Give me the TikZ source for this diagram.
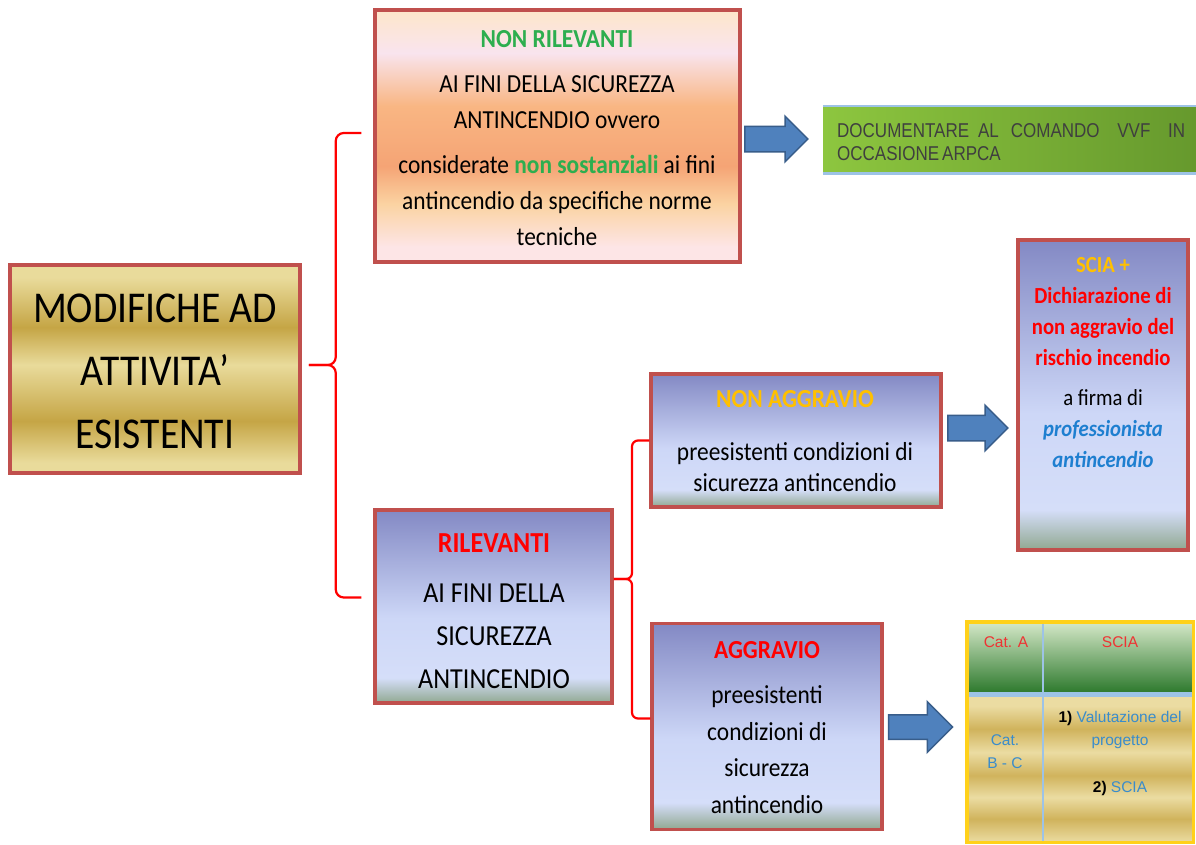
\documentclass[tikz,border=0pt]{standalone}
\usepackage{fontspec}
\setmainfont{Carlito}
\newfontfamily\cf[FakeStretch=0.9]{Carlito}
\newfontfamily\afc[FakeStretch=0.85]{Liberation Sans}
\newfontfamily\af{Liberation Sans}
\usetikzlibrary{shapes.arrows,calc}

\definecolor{bordred}{HTML}{C0504D}
\definecolor{goldL}{HTML}{E9DB9B}
\definecolor{goldD}{HTML}{C5A545}
\definecolor{orA}{HTML}{FDE6CC}
\definecolor{orB}{HTML}{F9E4EE}
\definecolor{orC}{HTML}{F9B683}
\definecolor{orD}{HTML}{F5A475}
\definecolor{orE}{HTML}{FBD3A2}
\definecolor{orF}{HTML}{FDE5E6}
\definecolor{blA}{HTML}{8389C4}
\definecolor{blB}{HTML}{CDD7F7}
\definecolor{blC}{HTML}{D5DEF9}
\definecolor{blD}{HTML}{90A890}
\definecolor{tgL}{HTML}{EBDCA2}
\definecolor{tgD}{HTML}{D0B35C}
\definecolor{grTop}{HTML}{D5E8C8}
\definecolor{grMid}{HTML}{A0C488}
\definecolor{grBot}{HTML}{2E7A2E}
\definecolor{gbL}{HTML}{8DC63F}
\definecolor{gbR}{HTML}{66992D}
\definecolor{lblue}{HTML}{9DC3E6}
\definecolor{arrfill}{HTML}{4F81BD}
\definecolor{arrdraw}{HTML}{385D8A}
\definecolor{tgreen}{HTML}{2DAE4F}
\definecolor{tred}{HTML}{FF0000}
\definecolor{tgold}{HTML}{FFC000}
\definecolor{tblue}{HTML}{1E7FD0}
\definecolor{cblue}{HTML}{3A8CCB}
\definecolor{cred}{HTML}{EE3333}
\definecolor{ctext}{HTML}{3F3F3F}
\definecolor{tyellow}{HTML}{FFD11A}

\pgfdeclareverticalshading{goldsh}{100bp}{color(0bp)=(goldL); color(27.5bp)=(goldL); color(37.5bp)=(goldD); color(51bp)=(goldL); color(60bp)=(goldD); color(72bp)=(goldL); color(100bp)=(goldL)}
\pgfdeclareverticalshading{orsh}{100bp}{color(0bp)=(orF); color(28bp)=(orF); color(36.5bp)=(orE); color(44bp)=(orD); color(56bp)=(orC); color(66.5bp)=(orB); color(74.5bp)=(orA); color(100bp)=(orA)}
\pgfdeclareverticalshading{blsh}{100bp}{color(0bp)=(blD); color(25bp)=(blD); color(31.5bp)=(blC); color(47bp)=(blB); color(75bp)=(blA); color(100bp)=(blA)}
\pgfdeclareverticalshading{tgsh}{100bp}{color(0bp)=(tgL); color(25bp)=(tgL); color(33bp)=(tgD); color(40.5bp)=(tgL); color(48bp)=(tgD); color(56bp)=(tgL); color(64bp)=(tgD); color(72bp)=(tgL); color(100bp)=(tgL)}

\begin{document}
\begin{tikzpicture}[x=1pt,y=-1pt,
  box/.style={rectangle, draw=bordred, line width=3.5pt, inner sep=0pt},
  txt/.style={align=center, inner sep=0pt, anchor=north},
  barrow/.style={single arrow, fill=arrfill, draw=arrdraw, line width=1.5pt, inner sep=0pt, text width=0pt, text height=12pt, text depth=12pt, single arrow head extend=10pt},
  brace/.style={draw=tred, line width=2.2pt, rounded corners=8pt},
  cell/.style={rectangle, inner sep=0pt, anchor=north west, draw=none}]
\fill[white] (0,0) rectangle (1196,844);
\useasboundingbox (0,0) rectangle (1196,844);

% boxes
\node[box, shade, shading=goldsh, minimum width=290pt, minimum height=208pt] (main) at (155,369) {};
\node[box, shade, shading=orsh, minimum width=365pt, minimum height=252pt] (nrl) at (557.5,136) {};
\node[box, shade, shading=blsh, minimum width=237pt, minimum height=193pt] (ril) at (493.5,606.5) {};
\node[box, shade, shading=blsh, minimum width=290pt, minimum height=133pt] (nagg) at (796,440.5) {};
\node[box, shade, shading=blsh, minimum width=230pt, minimum height=206pt] (agg) at (767,726.5) {};
\node[box, shade, shading=blsh, minimum width=170pt, minimum height=310pt] (scia) at (1103,395) {};
\node[rectangle, inner sep=0pt, left color=gbL, right color=gbR, minimum width=373pt, minimum height=66pt] (gbox) at (1009.5,139) {};
\draw[lblue, line width=1.5pt] (gbox.north west) -- (gbox.north east);
\draw[lblue, line width=3pt] ([yshift=-1.5pt]gbox.south west) -- ([yshift=-1.5pt]gbox.south east);

% texts
\node[txt, font=\cf\fontsize{44}{63}\selectfont] (maint) at (155,282) {\rule{0pt}{40pt}MODIFICHE AD\\ATTIVITA’\\ESISTENTI};
\node[txt, font=\cf\fontsize{26}{36}\selectfont] (nrlt) at (557,21) {\rule{0pt}{26pt}\textbf{\textcolor{tgreen}{NON RILEVANTI}}\\[9pt]AI FINI DELLA SICUREZZA\\ANTINCENDIO ovvero\\[9pt]considerate \textbf{\textcolor{tgreen}{non sostanziali}} ai fini\\antincendio da specifiche norme\\tecniche};
\node[txt, font=\cf\fontsize{29}{43}\selectfont] (rilt) at (494,524) {\rule{0pt}{28pt}\textbf{\textcolor{tred}{RILEVANTI}}\\[7pt]AI FINI DELLA\\SICUREZZA\\ANTINCENDIO};
\node[txt, font=\cf\fontsize{26}{31}\selectfont] (naggt) at (795,381) {\rule{0pt}{26pt}\textbf{\textcolor{tgold}{NON AGGRAVIO}}\\[22pt]preesistenti condizioni di\\sicurezza antincendio};
\node[txt, font=\cf\fontsize{26}{36.5}\selectfont] (aggt) at (767,632) {\rule{0pt}{26pt}\textbf{\textcolor{tred}{AGGRAVIO}}\\[9pt]preesistenti\\condizioni di\\sicurezza\\antincendio};
\node[txt, font=\cf\fontsize{23}{31}\selectfont] (sciat) at (1103,250) {\rule{0pt}{22pt}\textbf{\textcolor{tgold}{SCIA +}}\\\textbf{\textcolor{tred}{Dichiarazione di}}\\\textbf{\textcolor{tred}{non aggravio del}}\\\textbf{\textcolor{tred}{rischio incendio}}\\[9pt]a firma di\\\textbf{\textit{\textcolor{tblue}{professionista}}}\\\textbf{\textit{\textcolor{tblue}{antincendio}}}};
\node[anchor=north west, inner sep=0pt, align=left, font=\afc\fontsize{20}{23}\selectfont, text=ctext] (gt) at (837,122) {\rule{0pt}{15pt}\makebox[348pt][l]{DOCUMENTARE\hspace{9pt}AL\hspace{12pt}COMANDO\hfill VVF\hfill IN}\\OCCASIONE\hspace{3pt}ARPCA};

% block arrows
\node[barrow, minimum height=63pt, single arrow head extend=10pt] (ar1) at (770,139) {};
\node[barrow, minimum height=60pt, single arrow head extend=10pt] (ar2) at (971.5,428) {};
\node[barrow, minimum height=64pt, text height=11.5pt, text depth=11.5pt, single arrow head extend=13pt] (ar3) at (914.5,727) {};

% table
\node[cell, top color=grTop, middle color=grMid, bottom color=grBot, minimum width=76pt, minimum height=70pt] (cA) at (967,622) {};
\node[cell, top color=grTop, middle color=grMid, bottom color=grBot, minimum width=150pt, minimum height=70pt] (cS) at (1043,622) {};
\node[cell, shade, shading=tgsh, minimum width=76pt, minimum height=145pt] (cB) at (967,697) {};
\node[cell, shade, shading=tgsh, minimum width=150pt, minimum height=145pt] (cV) at (1043,697) {};
\fill[lblue] (cA.south west) rectangle (cV.north east);
\draw[lblue, line width=2pt] (cA.north east) -- (cB.south east);
\draw[tyellow, line width=3.5pt] (cA.north west) rectangle (cV.south east);
\node[anchor=base, inner sep=0pt, font=\af\fontsize{15.5}{18}\selectfont, text=cred] (tA) at (1006,647) {Cat. A};
\node[anchor=base, inner sep=0pt, font=\af\fontsize{15.5}{18}\selectfont, text=cred] (tS) at (1120,647) {SCIA};
\node[txt, font=\af\fontsize{15.5}{23}\selectfont, text=cblue] (tB) at (1005,734) {\rule{0pt}{11pt}Cat.\\B - C};
\node[txt, font=\af\fontsize{15.5}{23}\selectfont, text=cblue] (tV) at (1120,711) {\rule{0pt}{11pt}\textcolor{black}{\textbf{1)}} Valutazione del\\progetto\\[24pt]\textcolor{black}{\textbf{2)}} SCIA};

% brackets
\coordinate (bk1) at ($(main.east)+(34,-4)$);
\coordinate (bkm) at ([xshift=7pt]main.east);
\draw[brace] ([xshift=-12pt,yshift=3pt]nrl.west) -| (bk1) -- (bkm |- bk1);
\draw[brace] ([xshift=-12pt,yshift=9pt]ril.west) -| (bk1) -- (bkm |- bk1);
\coordinate (bk2) at (632,579);
\draw[brace, rounded corners=6pt] (nagg.west) -| (bk2) -- (ril.east |- bk2);
\draw[brace, rounded corners=6pt] ([yshift=8pt]agg.west) -| (bk2) -- (ril.east |- bk2);
\end{tikzpicture}
\end{document}
